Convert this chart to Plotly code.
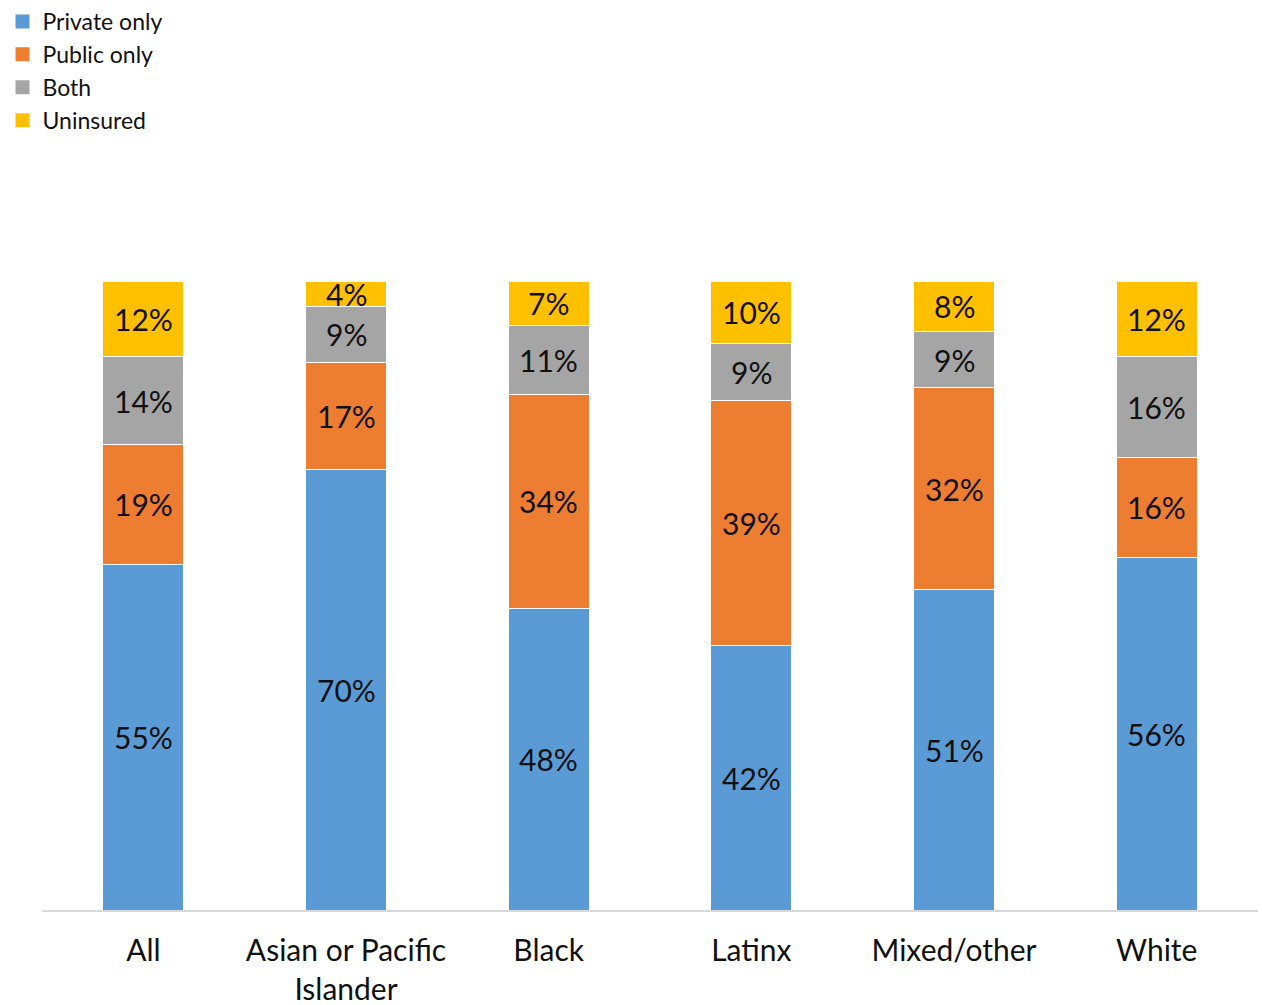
import plotly.graph_objects as go

categories = ["All", "Asian or Pacific<br>Islander", "Black", "Latinx", "Mixed/other", "White"]
private_only = [55, 70, 48, 42, 51, 56]
public_only = [19, 17, 34, 39, 32, 16]
both = [14, 9, 11, 9, 9, 16]
uninsured = [12, 4, 7, 10, 8, 12]

series = [
    ("Private only", private_only, "#5B9BD5"),
    ("Public only", public_only, "#ED7D31"),
    ("Both", both, "#A5A5A5"),
    ("Uninsured", uninsured, "#FFC000"),
]

FONT = "Lato, Calibri, Carlito, sans-serif"
TEXT_COLOR = "#111111"

fig = go.Figure()
base = [0] * len(categories)
annotations = []
for name, vals, color in series:
    fig.add_trace(go.Bar(
        name=name,
        x=categories,
        y=vals,
        marker=dict(color=color, line=dict(color="white", width=1)),
        width=0.4,
        hoverinfo="skip",
        showlegend=False,
    ))
    # square legend swatch
    fig.add_trace(go.Scatter(
        name=name, x=[None], y=[None], mode="markers",
        marker=dict(symbol="square", size=14, color=color),
        showlegend=True, hoverinfo="skip",
    ))
    for i, v in enumerate(vals):
        annotations.append(dict(
            x=categories[i], y=base[i] + v / 2, xref="x", yref="y",
            text=f"{v}%", showarrow=False,
            font=dict(family=FONT, size=30, color=TEXT_COLOR),
        ))
        base[i] += v

fig.update_layout(
    barmode="stack",
    width=1262, height=1005,
    margin=dict(l=42, r=4, t=281, b=95, autoexpand=False),
    paper_bgcolor="white", plot_bgcolor="white",
    font=dict(family=FONT, size=30, color=TEXT_COLOR),
    annotations=annotations,
    showlegend=True,
    legend=dict(
        xref="container", yref="container",
        x=0.002, y=1.004, xanchor="left", yanchor="top",
        font=dict(family=FONT, size=23, color=TEXT_COLOR),
        traceorder="normal",
        itemsizing="trace",
        itemwidth=30,
        bgcolor="rgba(0,0,0,0)",
    ),
    bargap=0.6,
)
fig.update_xaxes(
    showline=True, linecolor="#D9D9D9", linewidth=2,
    ticks="", showgrid=False, ticklabelstandoff=13,
    tickfont=dict(family=FONT, size=30, color=TEXT_COLOR),
)
fig.update_yaxes(
    range=[0, 100], visible=False, showgrid=False, zeroline=False,
)

fig.write_html("out.html")
